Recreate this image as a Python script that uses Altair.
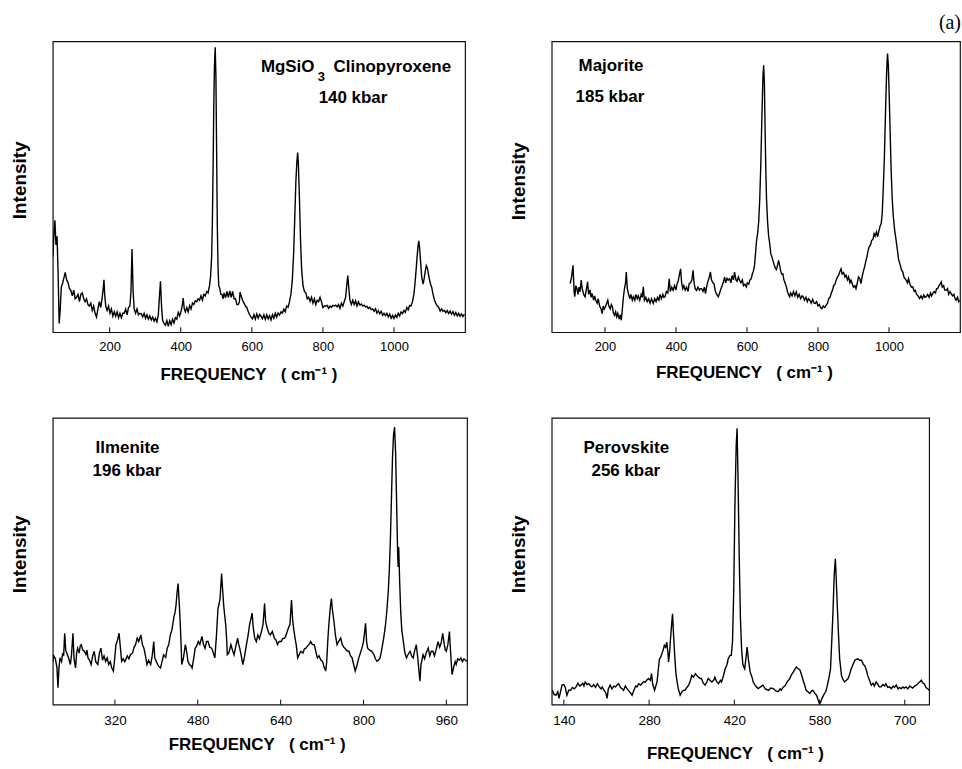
import altair as alt
import pandas as pd

FONT = "Liberation Sans"
X_TITLE = "FREQUENCY\u00a0\u00a0\u00a0(\u00a0cm\u207b\u00b9\u00a0)"
Y_TITLE = "Intensity"

# ---- MgSiO3 clinopyroxene, 140 kbar ----
CPX_FREQ = [
    40, 43, 46, 49, 52, 55, 58, 61, 64, 68,
    72, 75, 79, 83, 87, 91, 95, 99, 103, 107,
    111, 115, 119, 123, 127, 131, 135, 139, 143, 147,
    151, 155, 159, 163, 167, 171, 175, 179, 182, 184,
    186, 189, 193, 197, 201, 205, 209, 213, 217, 221,
    225, 229, 233, 237, 241, 245, 249, 253, 257, 260,
    263, 266, 269, 273, 277, 281, 285, 289, 293, 297,
    301, 305, 309, 313, 317, 321, 325, 329, 333, 337,
    340, 343, 346, 349, 353, 357, 361, 365, 369, 373,
    377, 381, 385, 389, 393, 397, 401, 404, 407, 410,
    413, 417, 421, 425, 429, 433, 437, 441, 445, 449,
    453, 457, 461, 465, 469, 473, 477, 481, 484, 487,
    489, 491, 493, 495, 497, 499, 501, 503, 505, 507,
    510, 513, 516, 519, 522, 526, 530, 534, 538, 542,
    546, 550, 554, 558, 562, 565, 567, 570, 574, 578,
    582, 586, 590, 594, 598, 602, 606, 610, 614, 618,
    622, 626, 630, 634, 638, 642, 646, 650, 654, 658,
    662, 666, 670, 674, 678, 682, 686, 690, 694, 698,
    702, 706, 710, 714, 718, 721, 724, 727, 729, 731,
    734, 737, 740, 744, 748, 752, 756, 760, 764, 768,
    772, 776, 780, 784, 788, 792, 796, 800, 804, 808,
    812, 816, 820, 824, 828, 832, 836, 840, 844, 848,
    852, 856, 860, 864, 867, 870, 873, 876, 880, 884,
    888, 892, 896, 900, 904, 908, 912, 916, 920, 924,
    928, 932, 936, 940, 944, 948, 952, 956, 960, 964,
    968, 972, 976, 980, 984, 988, 992, 996, 1000, 1004,
    1008, 1012, 1016, 1020, 1024, 1028, 1032, 1036, 1040, 1044,
    1048, 1052, 1056, 1059, 1062, 1065, 1068, 1070, 1072, 1075,
    1078, 1080, 1082, 1085, 1088, 1091, 1094, 1097, 1100, 1103,
    1106, 1110, 1114, 1118, 1122, 1126, 1130, 1134, 1138, 1142,
    1146, 1150, 1154, 1158, 1162, 1166, 1170, 1174, 1178, 1182,
    1186, 1190, 1194, 1198,
]
CPX_INT = [
    26, 33, 38.5, 30, 33, 20, 3, 8, 15.5, 17,
    19, 20.6, 18, 17, 15, 14.3, 12.5, 14.5, 11.5, 12,
    13, 10.5, 13, 13.5, 11.5, 10.5, 11.5, 9.5, 9, 10,
    7.5, 9, 6.5, 5.2, 8, 10.5, 8.5, 12, 15, 18,
    13, 9, 7.5, 9, 6.5, 8, 5.5, 7, 5.5, 7,
    5, 6.5, 5, 6.5, 6.5, 8, 6, 8.5, 9, 14,
    28.6, 14, 8, 6.5, 8, 6, 6.5, 6.3, 5.3, 6.5,
    4.8, 6, 4.5, 5.6, 4.2, 5.2, 3.8, 4.8, 3.6, 6,
    12, 17.5, 9, 4, 3, 2.4, 4, 2, 4, 2.6,
    4.5, 3.2, 5, 4.5, 6.8, 5.6, 7.3, 9, 11.7, 8,
    7, 8.5, 7, 9.2, 8, 10, 9.5, 10.8, 10.5, 11.5,
    11, 12.5, 11, 13, 12.5, 14, 13.5, 16, 19.2, 26,
    38, 56, 78, 92, 98, 88, 62, 36, 22, 16,
    15, 13, 13, 11.5, 13.5, 11.8, 14, 12, 14.2, 12,
    14, 11.5, 11.5, 9.5, 9.5, 10.5, 13.8, 12.5, 11, 10,
    9, 8.5, 7, 6, 5.2, 4.6, 6, 4.5, 6.3, 4.8,
    6.1, 5.5, 4.6, 6, 4.4, 6, 4.6, 5.7, 4.2, 6,
    4.8, 6.5, 5.2, 6.6, 5.9, 7, 6.6, 7.9, 7, 9,
    8.6, 10.5, 13, 18, 28, 40, 52, 59, 61.8, 58,
    46, 32, 22, 16, 14, 13.5, 11.5, 12, 10.6, 12,
    10, 11.5, 9.5, 11, 10.5, 12, 10.5, 8.5, 9, 9,
    9.2, 8.2, 9, 8.5, 9.2, 9, 9.3, 8.7, 9.5, 8.2,
    10, 9, 10.5, 12, 16, 19.5, 15, 11, 9.5, 11,
    9.5, 10.8, 9, 10.5, 9.3, 9.7, 9, 9.3, 8.7, 8.9,
    8.2, 8.6, 7.8, 8, 7.2, 8.1, 6.6, 7.4, 6.4, 7.2,
    5.8, 6.5, 5.7, 6.5, 5.2, 6.2, 4.8, 5.8, 4.7, 5.9,
    5.1, 6.5, 5.6, 7, 6.4, 7.5, 6.8, 8.5, 7.7, 9.2,
    9, 10.5, 13, 16.6, 21, 26, 30, 31.4, 29, 24,
    19, 17.7, 16.5, 18.5, 21, 22.9, 22, 20, 18, 16.5,
    15.5, 13, 11, 9.8, 9, 8.5, 7.2, 8, 7.2, 7.5,
    6.7, 7.4, 6.4, 7.3, 6.2, 7.1, 5.8, 6.8, 5.6, 6.5,
    5.5, 6.3, 5.4, 6.2,
]
CPX_TICKS = [200, 400, 600, 800, 1000]
CPX_TICK_TEXT = ["200", "400", "600", "800", "1000"]
CPX_NOTES = ["MgSiO", "3", "Clinopyroxene", "140 kbar"]

# ---- Majorite, 185 kbar ----
MAJ_FREQ = [
    102, 106, 110, 113, 115, 118, 121, 124, 127, 130,
    133, 136, 140, 144, 148, 151, 154, 158, 161, 164,
    168, 171, 174, 178, 181, 185, 189, 192, 195, 198,
    201, 205, 208, 211, 215, 218, 221, 224, 227, 230,
    233, 236, 240, 243, 246, 249, 252, 255, 258, 260,
    263, 266, 270, 273, 277, 280, 284, 287, 291, 294,
    298, 302, 305, 308, 311, 315, 319, 323, 327, 331,
    336, 340, 344, 348, 352, 355, 359, 363, 366, 369,
    373, 377, 381, 384, 388, 392, 396, 400, 403, 406,
    410, 413, 416, 419, 422, 426, 430, 434, 437, 441,
    445, 448, 451, 454, 458, 462, 466, 469, 472, 476,
    480, 483, 487, 490, 494, 497, 500, 504, 507, 511,
    515, 519, 523, 527, 530, 534, 537, 540, 544, 547,
    551, 555, 558, 562, 565, 569, 572, 576, 579, 583,
    587, 590, 594, 598, 601, 605, 608, 612, 615, 618,
    621, 624, 627, 630, 633, 636, 639, 642, 645, 647,
    649, 651, 653, 655, 658, 661, 664, 667, 670, 673,
    677, 680, 683, 686, 689, 692, 695, 698, 701, 704,
    707, 711, 714, 717, 720, 723, 727, 731, 735, 739,
    743, 747, 751, 755, 758, 762, 766, 770, 773, 777,
    781, 785, 789, 792, 796, 800, 804, 807, 811, 815,
    819, 823, 827, 830, 834, 837, 841, 844, 848, 851,
    855, 858, 862, 865, 868, 872, 876, 879, 883, 886,
    890, 893, 897, 900, 904, 907, 911, 914, 918, 921,
    925, 928, 931, 935, 938, 941, 944, 948, 951, 955,
    958, 961, 965, 968, 972, 975, 978, 981, 984, 987,
    990, 993, 995, 996, 998, 1000, 1003, 1006, 1009, 1012,
    1016, 1020, 1024, 1027, 1029, 1032, 1035, 1039, 1042, 1045,
    1048, 1052, 1055, 1059, 1063, 1067, 1071, 1074, 1078, 1082,
    1086, 1090, 1094, 1098, 1101, 1105, 1109, 1113, 1117, 1120,
    1123, 1127, 1131, 1134, 1137, 1141, 1144, 1147, 1150, 1154,
    1157, 1161, 1165, 1168, 1172, 1175, 1179, 1183, 1186, 1189,
    1193, 1196, 1199,
]
MAJ_INT = [
    16.7, 19, 23, 14, 12.2, 16, 15, 13, 15.5, 13.9,
    17.9, 15, 13, 12.2, 15, 17.3, 13, 14.5, 12, 13.3,
    11, 12.5, 11, 10, 11.5, 9, 8, 6.4, 9, 8,
    8.7, 10, 11, 9, 8, 9.5, 8.7, 6.5, 5.8, 7,
    5.3, 6.5, 4.5, 6, 4.1, 8, 12.2, 15, 17, 20.7,
    15, 13.3, 11.5, 13, 11, 12.2, 11, 13, 11.5, 12.5,
    11, 13, 12, 15.6, 11, 12, 10.5, 11.5, 10, 11.5,
    9.9, 11.5, 10.5, 12, 11, 13, 11.5, 13, 12, 12.2,
    14, 13.5, 18.4, 14, 15.5, 14.4, 16, 14.5, 16.7, 17.5,
    20, 21.8, 17, 15, 16, 14.5, 15.5, 14, 16.7, 17,
    18, 21.3, 17, 15, 14.4, 15.5, 14.5, 15, 15, 14,
    15.5, 13.3, 16, 17.5, 19, 20.7, 18, 17, 16.7, 14,
    13, 12.2, 13.5, 15, 16, 17.5, 19, 17, 18.5, 17.9,
    18.4, 17, 19.5, 18, 20.7, 18, 17.5, 19, 17.9, 17,
    18, 16, 16.5, 15.6, 17, 16.5, 17.9, 18.4, 20, 21,
    22.7, 27, 31.6, 34, 38, 46, 58, 74, 88, 91.8,
    86, 70, 56, 46, 38, 33, 30.5, 27, 26, 24.7,
    23, 22, 21.5, 23, 24.7, 23, 21, 20, 20.1, 18,
    17, 15.6, 14, 13, 12.2, 13.5, 12.5, 14, 12.5, 13.9,
    12, 13, 11.5, 12.5, 12.2, 11, 12, 10.5, 11.5, 11,
    10, 11.3, 10, 9.9, 10.5, 9, 9.5, 8.5, 8.1, 9,
    8.5, 9.3, 10, 11.5, 12, 13.3, 14.5, 16, 16.5, 17.9,
    19, 19.5, 21, 21.8, 20, 20.5, 19, 19.6, 18, 19,
    17, 17.9, 16.5, 15.5, 16, 15, 17, 19, 18.4, 16.7,
    19.5, 21, 22.4, 24.5, 26, 28, 29.3, 30, 31.5, 32,
    33.9, 33, 34.5, 32.8, 35, 36.5, 37.3, 41, 50, 60,
    75, 88, 94, 95.8, 92, 84, 70, 56, 46, 40,
    35, 31.6, 28, 25, 24.2, 23, 21.5, 20.7, 19, 18.4,
    17.9, 17, 18.4, 16.5, 15.5, 15.6, 14, 14.4, 13, 12.5,
    11.6, 12.5, 11.5, 12.8, 12, 12.2, 13, 12, 13.5, 12.5,
    13.3, 14, 13.5, 15, 15, 16, 16.5, 17.3, 15.5, 16,
    14.5, 14.4, 15, 13, 14, 13.3, 12.5, 13, 11.5, 11,
    12, 10.5, 11,
]
MAJ_TICKS = [200, 400, 600, 800, 1000]
MAJ_TICK_TEXT = ["200", "400", "600", "800", "1000"]
MAJ_NOTES = ["Majorite", "185 kbar"]

# ---- Ilmenite, 196 kbar ----
ILM_FREQ = [
    200, 202, 205, 208, 210, 212, 214, 217, 219, 221,
    223, 225, 228, 231, 234, 236, 239, 241, 244, 246,
    248, 251, 253, 255, 258, 261, 264, 266, 268, 271,
    274, 277, 280, 283, 287, 290, 293, 296, 299, 302,
    305, 308, 311, 314, 317, 319, 322, 325, 328, 331,
    333, 336, 339, 341, 344, 347, 350, 354, 357, 360,
    363, 366, 370, 373, 376, 379, 382, 385, 389, 392,
    395, 397, 400, 404, 408, 411, 414, 418, 421, 424,
    427, 430, 434, 436, 438, 440, 442, 444, 446, 448,
    449, 452, 456, 459, 461, 464, 467, 469, 472, 475,
    478, 481, 484, 488, 491, 494, 497, 500, 503, 507,
    510, 513, 516, 519, 521, 523, 526, 528, 530, 532,
    534, 536, 537, 540, 544, 547, 550, 553, 557, 559,
    561, 564, 567, 570, 574, 577, 580, 582, 585, 587,
    590, 593, 596, 599, 603, 606, 609, 611, 614, 617,
    620, 624, 628, 631, 634, 637, 641, 644, 648, 651,
    655, 658, 661, 663, 665, 668, 670, 673, 676, 679,
    683, 686, 689, 692, 695, 698, 701, 705, 708, 711,
    714, 718, 721, 724, 727, 729, 731, 733, 736, 738,
    740, 743, 746, 749, 752, 756, 759, 762, 764, 767,
    770, 772, 775, 778, 781, 784, 787, 791, 794, 797,
    800, 802, 804, 806, 808, 812, 816, 820, 823, 826,
    829, 832, 835, 839, 842, 845, 848, 850, 852, 854,
    856, 858, 860, 862, 864, 866, 867, 868, 870, 872,
    874, 877, 880, 883, 886, 890, 893, 896, 899, 902,
    905, 907, 909, 911, 915, 918, 921, 925, 928, 931,
    934, 937, 940, 944, 947, 950, 953, 956, 958, 960,
    963, 966, 968, 971, 974, 977, 979, 982, 985, 988,
    991, 994, 997, 1000,
]
ILM_INT = [
    15, 17, 16, 13, 5.9, 13, 16.3, 15, 18, 17,
    24.9, 19, 17.5, 16, 14, 17, 24.9, 16, 12.8, 18,
    19.7, 18, 20.5, 20.9, 19, 18.6, 17.5, 19, 16.3, 15.5,
    14, 17, 18.6, 15, 14, 18, 19.7, 15.5, 17, 15.1,
    16.3, 14, 15, 12.8, 11.7, 15, 20.9, 22.5, 24.9, 19,
    15.1, 16, 15, 15.7, 17, 16, 17.5, 18, 20, 21,
    23.2, 22, 24.3, 21, 19.7, 17, 14, 15.5, 14, 17,
    22, 16.3, 15, 13.5, 12.8, 15, 17.4, 16.5, 19.7, 21,
    24.3, 26, 30.7, 32, 34.7, 39, 42.2, 36, 29, 20,
    14, 16, 20.9, 18, 15.1, 14, 13.5, 12.8, 16, 19.7,
    20.5, 22, 21, 23.8, 21, 19.7, 22, 22, 20, 19.7,
    18, 16.3, 24, 33.6, 35, 37, 45.7, 40, 34.7, 31,
    27.8, 22, 17.4, 18, 20.9, 19, 17.4, 20, 23.2, 21,
    19.7, 17, 14, 16.5, 20.9, 24, 27.8, 29.5, 31.9, 27,
    23.2, 22, 24.3, 23, 25.5, 28, 35.3, 29, 26.7, 25,
    24.3, 25.5, 23.2, 22.5, 20.9, 22, 22, 23, 23.2, 24.5,
    26.7, 28, 36.5, 30, 26.7, 23, 20.9, 16.3, 17.5, 18.6,
    18, 19.5, 19.7, 20.5, 21, 22, 21, 20.9, 18.5, 16.3,
    17, 15.5, 15.1, 13, 11.7, 15, 22, 27.8, 34, 37,
    33, 29, 24, 20.9, 22, 23.2, 21, 20, 19.7, 19,
    18.6, 18.6, 17, 16.3, 14, 11.7, 13.5, 16.3, 18, 19.7,
    22, 25, 28.4, 22, 19.7, 19, 18.6, 17.5, 16, 15.1,
    15.5, 16.3, 19, 23.2, 27, 32.4, 40, 47.4, 58, 72,
    86, 94, 96.8, 88, 70, 52, 48, 55, 42, 32,
    26, 22, 18, 16.3, 17.5, 18.6, 17, 16.3, 19, 20.9,
    16, 12, 8.2, 14, 17.4, 16, 18, 19.7, 17, 18.6,
    18.6, 17, 19, 22, 20, 21.5, 24.9, 21, 19, 18.6,
    21, 25.5, 19, 10.5, 13, 15, 14, 16, 15.5, 16.3,
    15, 16, 15.5, 15.1,
]
ILM_TICKS = [320, 480, 640, 800, 960]
ILM_TICK_TEXT = ["320", "480", "640", "800", "960"]
ILM_NOTES = ["Ilmenite", "196 kbar"]

# ---- Perovskite, 256 kbar ----
PV_FREQ = [
    121, 124, 127, 130, 132, 135, 137, 140, 142, 145,
    148, 151, 154, 157, 160, 163, 166, 168, 171, 173,
    175, 178, 181, 184, 186, 189, 192, 195, 198, 201,
    203, 206, 209, 211, 213, 216, 219, 222, 225, 228,
    230, 233, 236, 238, 241, 244, 246, 249, 252, 255,
    258, 260, 263, 266, 268, 271, 274, 276, 279, 282,
    284, 286, 289, 291, 293, 295, 297, 299, 301, 303,
    305, 307, 309, 311, 312, 314, 315, 317, 318.5, 320,
    322, 324, 326, 328, 331, 334, 337, 339, 342, 345,
    348, 350, 353, 356, 359, 361, 364, 366, 369, 372,
    375, 377, 380, 383, 386, 388, 391, 394, 397, 399,
    402, 405, 408, 410, 413, 415, 417, 419, 421, 423,
    424.5, 426, 428, 430, 432, 434, 437, 439, 441, 443,
    446, 449, 451, 455, 459, 463, 467, 471, 476, 480,
    484, 488, 492, 495, 497, 500, 504, 507, 511, 514,
    517, 520, 522, 525, 528, 531, 533, 536, 538, 541,
    544, 547, 549, 552, 555, 558, 560, 562, 564, 567,
    570, 572, 574, 576, 578, 580, 582, 584, 585.9, 587,
    589, 591, 593, 596, 598, 601, 604, 607, 610, 612,
    615, 618, 620, 623, 626, 629, 632, 634, 637, 639,
    642, 645, 648, 650, 653, 656, 658, 661, 664, 667,
    669, 672, 675, 678, 681, 683, 686, 689, 691, 694,
    697, 699, 702, 705, 708, 710, 713, 716, 719, 722,
    725, 727, 730, 732, 735, 738, 740,
]
PV_INT = [
    5.0, 3.5, 3.3, 4.5, 2.2, 5, 6.8, 7, 6.2, 3.3,
    5, 5.0, 6, 5.5, 6.2, 7.5, 6.5, 6.8, 7.5, 6.5,
    7.9, 7, 7.3, 6.5, 6.2, 7, 6, 7.3, 6.2, 5.5,
    6.2, 5, 4, 2.2, 5.5, 6.8, 5.5, 6.5, 6.2, 7,
    7.3, 6, 5.5, 5.0, 6.5, 5.5, 5.0, 4.2, 3.3, 5,
    6.5, 6.2, 7.3, 6.8, 7.3, 8, 7.9, 8.5, 9.1, 8.5,
    10.8, 7, 5.0, 6.5, 7.9, 12, 16.0, 16.5, 17.8, 19,
    20.7, 20, 21.8, 18, 14.9, 19, 22.4, 28, 31.7, 25,
    17.2, 11, 7.9, 5.5, 3.3, 4.5, 5, 5.0, 6, 6.8,
    8.5, 10.2, 9.6, 10.8, 10, 9.6, 9.1, 9.1, 7.5, 6.8,
    8, 9.1, 8.5, 7.9, 8.5, 9.6, 8, 7.3, 8.5, 7.9,
    10, 12.5, 14, 16.0, 17.2, 17.2, 22, 40, 70, 90,
    96.4, 80, 52, 30, 19, 14, 12.5, 16, 20.1, 16,
    11.4, 9.6, 7.9, 6.5, 5.6, 6.2, 6.8, 5.5, 5.0, 5.8,
    5.6, 4.8, 4.5, 5.5, 5.0, 6, 6.8, 8, 9.1, 10.5,
    11.4, 12.5, 13.1, 12.5, 12.0, 10, 8.5, 6.5, 5.0, 4.5,
    3.9, 4.8, 5.0, 4, 3.3, 1.5, 0.2, 1, 2.2, 3.5,
    4.5, 6, 7.9, 10, 12.5, 22, 32, 45, 50.9, 46,
    35, 25, 16, 10.2, 9, 7.9, 8.5, 9.1, 11, 12.5,
    14, 15.5, 15.8, 16.0, 15.5, 15.5, 14, 13.7, 12, 10.2,
    8.5, 6.8, 7.5, 6.5, 7.9, 7, 6.2, 6.2, 7, 6.5,
    7.3, 6, 6.2, 5.6, 6.5, 6, 6.8, 5.5, 6, 5.6,
    6.2, 5.8, 6.2, 5.5, 6.5, 6.2, 5.8, 6.5, 6.8, 7.5,
    8, 8.5, 7.5, 7.3, 6, 5.5, 5.0,
]
PV_TICKS = [140, 280, 420, 560, 700]
PV_TICK_TEXT = ["140", "280", "420", "580", "700"]
PV_NOTES = ["Perovskite", "256 kbar"]

PANEL_TAG = ["(a)"]


def label_expr(values, texts):
    """Vega expression that prints the given text at each tick value."""
    expr = "''"
    for v, t in reversed(list(zip(values, texts))):
        expr = f"datum.value == {v} ? '{t}' : ({expr})"
    return expr


def note(text, x, y, size=17, font=FONT, weight="bold", align="left"):
    return alt.Chart(pd.DataFrame({"label": [text]})).mark_text(
        align=align, baseline="alphabetic", font=font, fontWeight=weight,
        fontSize=size, color="black",
    ).encode(text="label:N", x=alt.value(x), y=alt.value(y))


def spectrum(freq, inten, domain, ticks, tick_text, width, height, notes,
             label_size, label_pad, title_pad, title_x, ytitle_y):
    df = pd.DataFrame({"freq": freq, "intensity": inten})
    xscale = alt.Scale(domain=domain, nice=False, zero=False)
    yscale = alt.Scale(domain=[0, 100], nice=False, zero=False)
    xaxis = alt.Axis(
        values=ticks, labelExpr=label_expr(ticks, tick_text),
        ticks=False, domain=False, grid=False,
        labelFont=FONT, labelFontSize=label_size, labelColor="black",
        labelPadding=label_pad, labelFlush=False, labelOverlap=False,
        title=X_TITLE, titleFont=FONT, titleFontSize=17,
        titleFontWeight="bold", titleColor="black",
        titlePadding=title_pad, titleX=title_x,
    )
    line = alt.Chart(df).mark_line(
        color="black", strokeWidth=1.4, clip=True, interpolate="linear"
    ).encode(
        x=alt.X("freq:Q", scale=xscale, axis=xaxis),
        y=alt.Y("intensity:Q", scale=yscale, axis=alt.Axis(
            labels=False, ticks=False, domain=False, grid=False,
            title=Y_TITLE, titleFont=FONT, titleFontSize=19,
            titleFontWeight="bold", titleColor="black",
            titlePadding=23, titleY=ytitle_y,
        )),
    )
    # inward-pointing tick marks along the bottom frame
    tick_marks = alt.Chart(pd.DataFrame({"freq": ticks})).mark_rule(
        color="black", strokeWidth=1
    ).encode(
        x=alt.X("freq:Q", scale=xscale, axis=xaxis),
        y=alt.value(height),
        y2=alt.value(height - 5),
    )
    layers = [line, tick_marks] + notes
    return alt.layer(*layers).properties(width=width, height=height)


cpx = spectrum(
    CPX_FREQ, CPX_INT, [40, 1200], CPX_TICKS, CPX_TICK_TEXT, 414, 292,
    [note(CPX_NOTES[0], 209, 30.7), note(CPX_NOTES[1], 266, 40, size=13),
     note(CPX_NOTES[2], 282, 30.7), note(CPX_NOTES[3], 267, 61.7)],
    13, 8, 13.5, 196.5, 139,
)
maj = spectrum(
    MAJ_FREQ, MAJ_INT, [50, 1200], MAJ_TICKS, MAJ_TICK_TEXT, 410, 292,
    [note(MAJ_NOTES[0], 27, 30), note(MAJ_NOTES[1], 24, 60.7),
     note(PANEL_TAG[0], 411, -12, size=20, font="Liberation Serif",
          weight="normal", align="right")],
    13, 8, 11.5, 193, 140,
)
ilm = spectrum(
    ILM_FREQ, ILM_INT, [200, 1000], ILM_TICKS, ILM_TICK_TEXT, 416, 288,
    [note(ILM_NOTES[0], 43, 34.8), note(ILM_NOTES[1], 40, 58.8)],
    13.5, 9, 10, 204.7, 136.5,
)
pv = spectrum(
    PV_FREQ, PV_INT, [120, 740], PV_TICKS, PV_TICK_TEXT, 379, 288,
    [note(PV_NOTES[0], 32, 34.8), note(PV_NOTES[1], 40, 58.8)],
    13.5, 9, 19, 184, 136.5,
)

chart = alt.concat(
    cpx, maj, ilm, pv, columns=2,
    spacing={"row": 86, "column": 85}, bounds="flush",
).properties(
    padding={"left": 10, "top": 11, "right": 0, "bottom": 0},
    background="white",
).configure_view(stroke="#111111", strokeWidth=1.2)

chart.save("out.html", embed_options={"renderer": "svg", "actions": False})
